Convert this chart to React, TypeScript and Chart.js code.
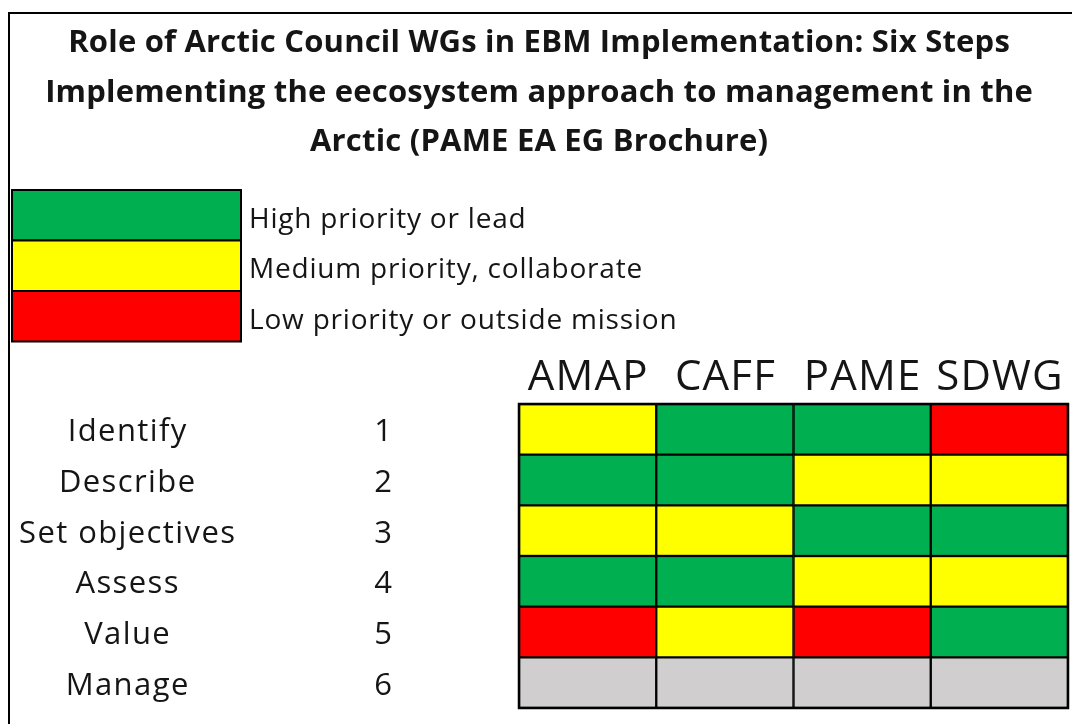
import React, { useEffect, useRef } from 'react';
import { Chart, registerables } from 'chart.js';

Chart.register(...registerables);

const titleLines = [
  'Role of Arctic Council WGs in EBM Implementation: Six Steps',
  'Implementing the eecosystem approach to management in the',
  'Arctic (PAME EA EG Brochure)',
];
const legendLabels = ['High priority or lead', 'Medium priority, collaborate', 'Low priority or outside mission'];
const legendLevels = ['H', 'M', 'L'];
const groups = ['AMAP', 'CAFF', 'PAME', 'SDWG'];
const steps = ['Identify', 'Describe', 'Set objectives', 'Assess', 'Value', 'Manage'];
const stepNumbers = ['1', '2', '3', '4', '5', '6'];
// H = high/lead, M = medium/collaborate, L = low/outside mission, N = not rated
const AMAP = ['M', 'H', 'M', 'H', 'L', 'N'];
const CAFF = ['H', 'H', 'M', 'H', 'M', 'N'];
const PAME = ['H', 'M', 'H', 'M', 'L', 'N'];
const SDWG = ['L', 'M', 'H', 'M', 'H', 'N'];

const priorityColor: Record<string, string> = {
  H: '#00B050',
  M: '#FFFF00',
  L: '#FF0000',
  N: '#D0CECE',
};

const FONT = '"Open Sans", "Noto Sans", sans-serif';

export default function App() {
  const ref = useRef<HTMLCanvasElement | null>(null);

  useEffect(() => {
    const canvas = ref.current;
    if (!canvas) return;
    const matrix = [AMAP, CAFF, PAME, SDWG];

    const datasets = steps.map((s, i) => ({
      label: s,
      data: groups.map(() => [i, i + 1]),
      backgroundColor: groups.map((_, j) => priorityColor[matrix[j][i]]),
      borderColor: '#000000',
      borderWidth: 1.5,
      borderSkipped: false as const,
      barPercentage: 1,
      categoryPercentage: 1,
    }));

    const centered = (ctx: any, text: string, x: number, y: number, spacing: number) => {
      ctx.letterSpacing = `${spacing}px`;
      ctx.textAlign = 'left';
      const w = ctx.measureText(text).width - spacing;
      ctx.fillText(text, x - w / 2, y);
    };

    const decor = {
      id: 'decor',
      afterDatasetsDraw(chart: any) {
        const ctx = chart.ctx as any;
        const xs = chart.scales.x;
        const ys = chart.scales.y;
        const area = chart.chartArea;
        ctx.save();
        // outer frame of the figure
        ctx.strokeStyle = '#000';
        ctx.lineWidth = 2;
        ctx.beginPath();
        ctx.moveTo(1072, 13);
        ctx.lineTo(9, 13);
        ctx.lineTo(9, 724);
        ctx.stroke();

        // grid frame
        ctx.lineWidth = 2.5;
        ctx.strokeRect(area.left, area.top, area.right - area.left, area.bottom - area.top);

        ctx.textBaseline = 'alphabetic';
        // title
        ctx.fillStyle = '#151515';
        ctx.font = `bold 31px ${FONT}`;
        titleLines.forEach((t, i) => centered(ctx, t, 539, 52 + i * 49.5, 0.2));

        // legend
        legendLabels.forEach((lab, i) => {
          const y0 = 190 + i * 50.5;
          ctx.fillStyle = priorityColor[legendLevels[i]];
          ctx.fillRect(12, y0, 229, 50.5);
          ctx.lineWidth = 2;
          ctx.strokeStyle = '#000';
          ctx.strokeRect(12, y0, 229, 50.5);
          ctx.fillStyle = '#151515';
          ctx.textAlign = 'left';
          ctx.font = `28px ${FONT}`;
          ctx.letterSpacing = '0.8px';
          ctx.fillText(lab, 249, y0 + 37.5);
        });

        // column headers
        ctx.fillStyle = '#151515';
        ctx.font = `42px ${FONT}`;
        groups.forEach((g, j) => centered(ctx, g, xs.getPixelForValue(j), 390, 1.2));

        // row labels and numbers
        ctx.font = `31px ${FONT}`;
        steps.forEach((s, i) => {
          const y = ys.getPixelForValue(i + 0.5) + 12;
          centered(ctx, s, 127, y, 1.4);
          centered(ctx, stepNumbers[i], 383, y, 0);
        });
        ctx.restore();
      },
    };

    const chart = new Chart(canvas, {
      type: 'bar',
      data: { labels: groups, datasets: datasets as any },
      options: {
        animation: false,
        responsive: false,
        events: [],
        layout: { padding: { left: 519, right: 4, top: 404, bottom: 16 } },
        plugins: { legend: { display: false }, tooltip: { enabled: false }, title: { display: false } },
        scales: {
          x: { type: 'category', display: false, stacked: true },
          y: { type: 'linear', display: false, min: 0, max: 6, reverse: true },
        },
      },
      plugins: [decor],
    });
    return () => chart.destroy();
  }, []);

  return (
    <div style={{ position: 'absolute', left: 0, top: 0, width: 1072, height: 724, background: '#fff' }}>
      <canvas ref={ref} width={1072} height={724} style={{ display: 'block' }} />
    </div>
  );
}
